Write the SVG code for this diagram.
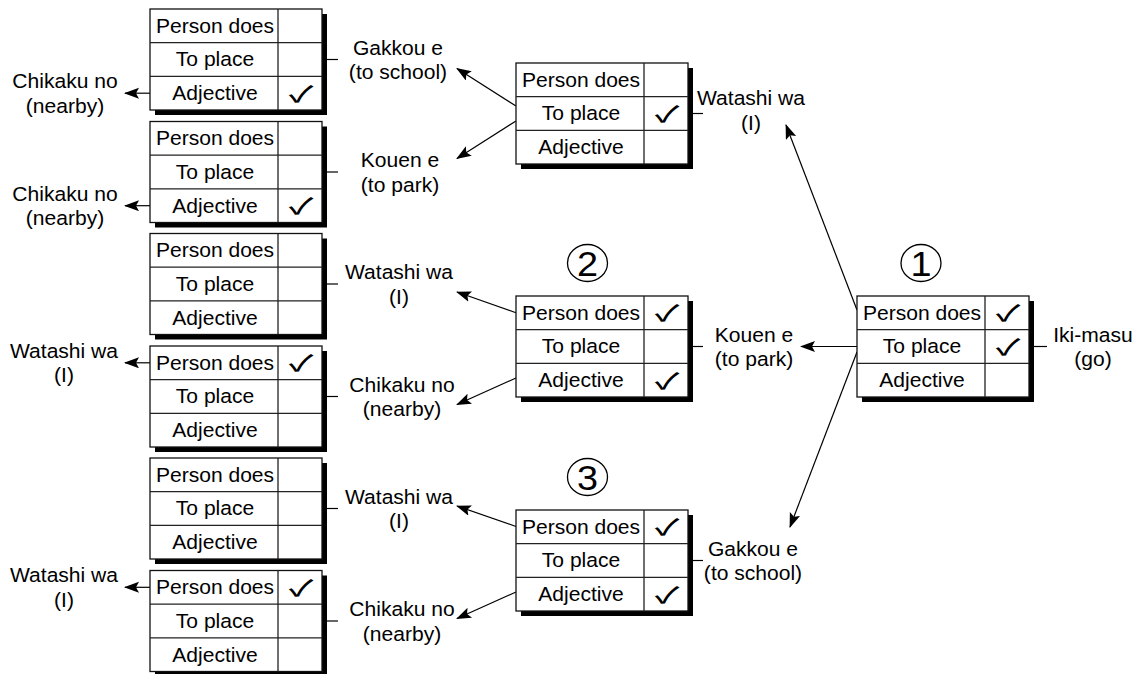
<svg xmlns="http://www.w3.org/2000/svg" width="1143" height="674" viewBox="0 0 1143 674">
  <style>
    .shadow { fill: #000; }
    .frame { fill: #fff; stroke: #111; stroke-width: 1.3; }
    .grid { fill: none; stroke: #222; stroke-width: 1.3; }
    .t { font-family: "Liberation Sans", Arial, sans-serif; font-size: 19.5px; fill: #000; text-anchor: middle; }
    .ck { font-family: "Noto Sans CJK JP", "DejaVu Sans", sans-serif; font-weight: 500; font-size: 26px; fill: #000; text-anchor: middle; }
    .num { font-family: "Liberation Sans", Arial, sans-serif; font-size: 35px; fill: #000; text-anchor: middle; }
    .ring { fill: none; stroke: #000; stroke-width: 1.3; }
    .wire { fill: none; stroke: #000; stroke-width: 1.2; }
    .arrow { fill: none; stroke: #000; stroke-width: 1.2; marker-end: url(#head); }
  </style>
  <defs>
    <marker id="head" markerUnits="userSpaceOnUse" markerWidth="17" markerHeight="12" refX="14" refY="5.5" orient="auto">
      <path d="M0,0 L15,5.5 L0,11 L3,5.5 Z" fill="#000"/>
    </marker>
  </defs>

  <!-- connectors -->
  <g id="connectors">
    <!-- left column: arrows to the outer words -->
    <path class="arrow" d="M150,93.2 H125"/>
    <path class="arrow" d="M150,205.7 H125"/>
    <path class="arrow" d="M150,362.8 H125"/>
    <path class="arrow" d="M150,587.3 H125"/>
    <!-- left column: stubs towards the words that select each table -->
    <path class="wire" d="M322,59.5 H338"/>
    <path class="wire" d="M322,172 H338"/>
    <path class="wire" d="M322,284 H338"/>
    <path class="wire" d="M322,396.5 H338"/>
    <path class="wire" d="M322,508.5 H338"/>
    <path class="wire" d="M322,621 H338"/>
    <!-- middle column -->
    <path class="arrow" d="M516,106 L457,68.5"/>
    <path class="arrow" d="M516,121 L457,158.5"/>
    <path class="arrow" d="M516,312.7 L457,292"/>
    <path class="arrow" d="M516,378 L457,404.5"/>
    <path class="arrow" d="M516,526.5 L457,506"/>
    <path class="arrow" d="M516,592 L457,618.5"/>
    <path class="wire" d="M688,113.5 H703"/>
    <path class="wire" d="M688,346.5 H703"/>
    <path class="wire" d="M688,560.5 H703"/>
    <!-- right table -->
    <path class="arrow" d="M857,310 L786,125"/>
    <path class="arrow" d="M857,346.5 H801"/>
    <path class="arrow" d="M857,352 L790,527"/>
    <path class="wire" d="M1029,346.5 H1047"/>
  </g>

  <!-- left column tables -->
  <g id="table-l1" transform="translate(150,9)">
    <rect class="shadow" x="5" y="5" width="172" height="101"/>
    <rect class="frame" width="172" height="101"/>
    <path class="grid" d="M128,0 V101 M0,33.67 H172 M0,67.33 H172"/>
    <text class="t" transform="translate(65,23.6) scale(1.08,1)">Person does</text>
    <text class="t" transform="translate(65,57.3) scale(1.08,1)">To place</text>
    <text class="t" transform="translate(65,91) scale(1.08,1)">Adjective</text>
    <text class="ck" transform="translate(151,92.5) scale(1.35,0.86)">✓</text>
  </g>
  <g id="table-l2" transform="translate(150,121.5)">
    <rect class="shadow" x="5" y="5" width="172" height="101"/>
    <rect class="frame" width="172" height="101"/>
    <path class="grid" d="M128,0 V101 M0,33.67 H172 M0,67.33 H172"/>
    <text class="t" transform="translate(65,23.6) scale(1.08,1)">Person does</text>
    <text class="t" transform="translate(65,57.3) scale(1.08,1)">To place</text>
    <text class="t" transform="translate(65,91) scale(1.08,1)">Adjective</text>
    <text class="ck" transform="translate(151,92.5) scale(1.35,0.86)">✓</text>
  </g>
  <g id="table-l3" transform="translate(150,233.5)">
    <rect class="shadow" x="5" y="5" width="172" height="101"/>
    <rect class="frame" width="172" height="101"/>
    <path class="grid" d="M128,0 V101 M0,33.67 H172 M0,67.33 H172"/>
    <text class="t" transform="translate(65,23.6) scale(1.08,1)">Person does</text>
    <text class="t" transform="translate(65,57.3) scale(1.08,1)">To place</text>
    <text class="t" transform="translate(65,91) scale(1.08,1)">Adjective</text>
  </g>
  <g id="table-l4" transform="translate(150,346)">
    <rect class="shadow" x="5" y="5" width="172" height="101"/>
    <rect class="frame" width="172" height="101"/>
    <path class="grid" d="M128,0 V101 M0,33.67 H172 M0,67.33 H172"/>
    <text class="t" transform="translate(65,23.6) scale(1.08,1)">Person does</text>
    <text class="t" transform="translate(65,57.3) scale(1.08,1)">To place</text>
    <text class="t" transform="translate(65,91) scale(1.08,1)">Adjective</text>
    <text class="ck" transform="translate(151,25) scale(1.35,0.86)">✓</text>
  </g>
  <g id="table-l5" transform="translate(150,458)">
    <rect class="shadow" x="5" y="5" width="172" height="101"/>
    <rect class="frame" width="172" height="101"/>
    <path class="grid" d="M128,0 V101 M0,33.67 H172 M0,67.33 H172"/>
    <text class="t" transform="translate(65,23.6) scale(1.08,1)">Person does</text>
    <text class="t" transform="translate(65,57.3) scale(1.08,1)">To place</text>
    <text class="t" transform="translate(65,91) scale(1.08,1)">Adjective</text>
  </g>
  <g id="table-l6" transform="translate(150,570.5)">
    <rect class="shadow" x="5" y="5" width="172" height="101"/>
    <rect class="frame" width="172" height="101"/>
    <path class="grid" d="M128,0 V101 M0,33.67 H172 M0,67.33 H172"/>
    <text class="t" transform="translate(65,23.6) scale(1.08,1)">Person does</text>
    <text class="t" transform="translate(65,57.3) scale(1.08,1)">To place</text>
    <text class="t" transform="translate(65,91) scale(1.08,1)">Adjective</text>
    <text class="ck" transform="translate(151,25) scale(1.35,0.86)">✓</text>
  </g>

  <!-- middle column tables -->
  <g id="table-m1" transform="translate(516,63)">
    <rect class="shadow" x="5" y="5" width="172" height="101"/>
    <rect class="frame" width="172" height="101"/>
    <path class="grid" d="M128,0 V101 M0,33.67 H172 M0,67.33 H172"/>
    <text class="t" transform="translate(65,23.6) scale(1.08,1)">Person does</text>
    <text class="t" transform="translate(65,57.3) scale(1.08,1)">To place</text>
    <text class="t" transform="translate(65,91) scale(1.08,1)">Adjective</text>
    <text class="ck" transform="translate(151,58.8) scale(1.35,0.86)">✓</text>
  </g>
  <g id="table-m2" transform="translate(516,296)">
    <rect class="shadow" x="5" y="5" width="172" height="101"/>
    <rect class="frame" width="172" height="101"/>
    <path class="grid" d="M128,0 V101 M0,33.67 H172 M0,67.33 H172"/>
    <text class="t" transform="translate(65,23.6) scale(1.08,1)">Person does</text>
    <text class="t" transform="translate(65,57.3) scale(1.08,1)">To place</text>
    <text class="t" transform="translate(65,91) scale(1.08,1)">Adjective</text>
    <text class="ck" transform="translate(151,25) scale(1.35,0.86)">✓</text>
    <text class="ck" transform="translate(151,92.5) scale(1.35,0.86)">✓</text>
  </g>
  <g id="table-m3" transform="translate(516,510)">
    <rect class="shadow" x="5" y="5" width="172" height="101"/>
    <rect class="frame" width="172" height="101"/>
    <path class="grid" d="M128,0 V101 M0,33.67 H172 M0,67.33 H172"/>
    <text class="t" transform="translate(65,23.6) scale(1.08,1)">Person does</text>
    <text class="t" transform="translate(65,57.3) scale(1.08,1)">To place</text>
    <text class="t" transform="translate(65,91) scale(1.08,1)">Adjective</text>
    <text class="ck" transform="translate(151,25) scale(1.35,0.86)">✓</text>
    <text class="ck" transform="translate(151,92.5) scale(1.35,0.86)">✓</text>
  </g>

  <!-- starting table -->
  <g id="table-r" transform="translate(857,296)">
    <rect class="shadow" x="5" y="5" width="172" height="101"/>
    <rect class="frame" width="172" height="101"/>
    <path class="grid" d="M128,0 V101 M0,33.67 H172 M0,67.33 H172"/>
    <text class="t" transform="translate(65,23.6) scale(1.08,1)">Person does</text>
    <text class="t" transform="translate(65,57.3) scale(1.08,1)">To place</text>
    <text class="t" transform="translate(65,91) scale(1.08,1)">Adjective</text>
    <text class="ck" transform="translate(151,25) scale(1.35,0.86)">✓</text>
    <text class="ck" transform="translate(151,58.8) scale(1.35,0.86)">✓</text>
  </g>

  <!-- step markers -->
  <g id="step-1">
    <ellipse class="ring" cx="921" cy="263" rx="20" ry="18.5"/>
    <text class="num" transform="translate(921,275.5) scale(1.08,1)">1</text>
  </g>
  <g id="step-2">
    <ellipse class="ring" cx="587.5" cy="263" rx="20" ry="18.5"/>
    <text class="num" transform="translate(587.5,275.5) scale(1.08,1)">2</text>
  </g>
  <g id="step-3">
    <ellipse class="ring" cx="587.5" cy="477" rx="20" ry="18.5"/>
    <text class="num" transform="translate(587.5,489.5) scale(1.08,1)">3</text>
  </g>

  <!-- word labels -->
  <g id="word-iki-masu">
    <text class="t" transform="translate(1093,341.5) scale(1.08,1)">Iki-masu</text>
    <text class="t" transform="translate(1093,366) scale(1.08,1)">(go)</text>
  </g>
  <g id="word-watashi-r">
    <text class="t" transform="translate(751,105) scale(1.08,1)">Watashi wa</text>
    <text class="t" transform="translate(751,129.5) scale(1.08,1)">(I)</text>
  </g>
  <g id="word-kouen-r">
    <text class="t" transform="translate(754,341.5) scale(1.08,1)">Kouen e</text>
    <text class="t" transform="translate(754,366) scale(1.08,1)">(to park)</text>
  </g>
  <g id="word-gakkou-r">
    <text class="t" transform="translate(753,555.5) scale(1.08,1)">Gakkou e</text>
    <text class="t" transform="translate(753,580) scale(1.08,1)">(to school)</text>
  </g>

  <g id="word-gakkou-m">
    <text class="t" transform="translate(398,54.5) scale(1.08,1)">Gakkou e</text>
    <text class="t" transform="translate(398,79) scale(1.08,1)">(to school)</text>
  </g>
  <g id="word-kouen-m">
    <text class="t" transform="translate(400,167) scale(1.08,1)">Kouen e</text>
    <text class="t" transform="translate(400,191.5) scale(1.08,1)">(to park)</text>
  </g>
  <g id="word-watashi-m2">
    <text class="t" transform="translate(399,279) scale(1.08,1)">Watashi wa</text>
    <text class="t" transform="translate(399,303.5) scale(1.08,1)">(I)</text>
  </g>
  <g id="word-chikaku-m2">
    <text class="t" transform="translate(402,391.5) scale(1.08,1)">Chikaku no</text>
    <text class="t" transform="translate(402,416) scale(1.08,1)">(nearby)</text>
  </g>
  <g id="word-watashi-m3">
    <text class="t" transform="translate(399,503.5) scale(1.08,1)">Watashi wa</text>
    <text class="t" transform="translate(399,528) scale(1.08,1)">(I)</text>
  </g>
  <g id="word-chikaku-m3">
    <text class="t" transform="translate(402,616) scale(1.08,1)">Chikaku no</text>
    <text class="t" transform="translate(402,640.5) scale(1.08,1)">(nearby)</text>
  </g>

  <g id="word-chikaku-l1">
    <text class="t" transform="translate(65,88) scale(1.08,1)">Chikaku no</text>
    <text class="t" transform="translate(65,112.5) scale(1.08,1)">(nearby)</text>
  </g>
  <g id="word-chikaku-l2">
    <text class="t" transform="translate(65,200.5) scale(1.08,1)">Chikaku no</text>
    <text class="t" transform="translate(65,225) scale(1.08,1)">(nearby)</text>
  </g>
  <g id="word-watashi-l4">
    <text class="t" transform="translate(64,357.5) scale(1.08,1)">Watashi wa</text>
    <text class="t" transform="translate(64,382) scale(1.08,1)">(I)</text>
  </g>
  <g id="word-watashi-l6">
    <text class="t" transform="translate(64,582) scale(1.08,1)">Watashi wa</text>
    <text class="t" transform="translate(64,606.5) scale(1.08,1)">(I)</text>
  </g>
</svg>
